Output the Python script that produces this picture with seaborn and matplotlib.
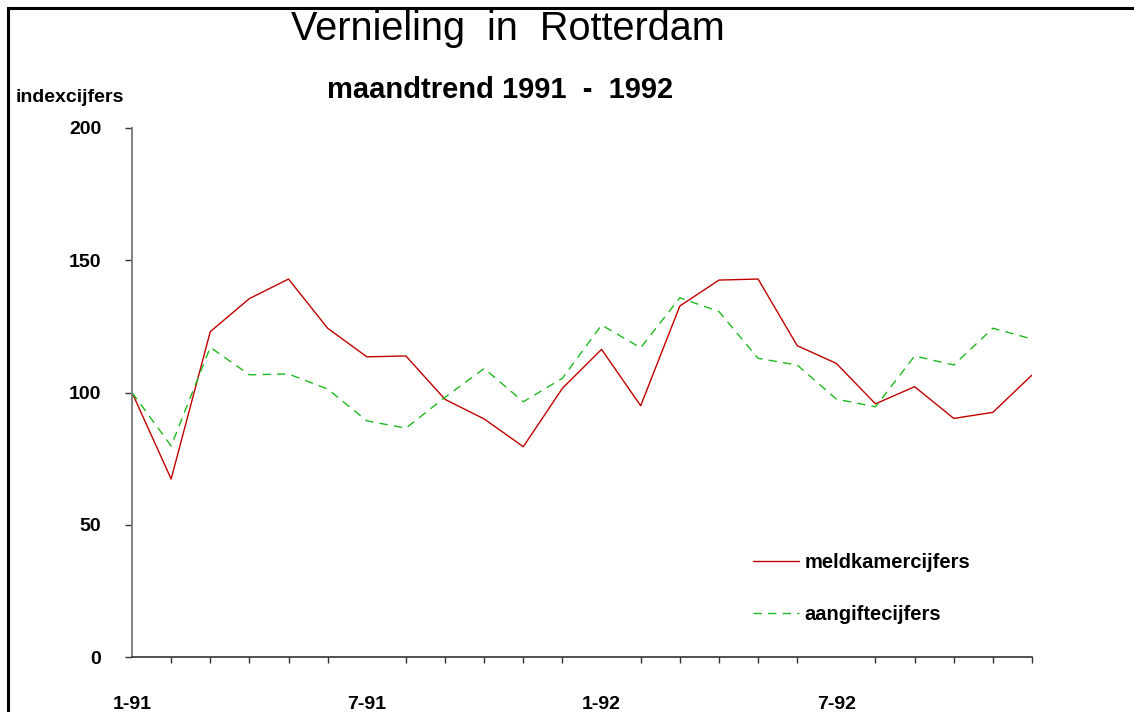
import matplotlib
matplotlib.use('Agg')
from matplotlib import pyplot as plt
from matplotlib.lines import Line2D
from matplotlib.ticker import FixedLocator
import seaborn as sns
import pandas as pd

# maandcijfers jan 1991 - dec 1992 (index, 1-91 = 100)
maanden = list(range(24))
meldkamer = [100, 67.3, 123.0, 135.5, 142.9, 124.3, 113.5, 113.8, 97.4, 90.0, 79.5, 101.6,
             116.3, 95.0, 132.7, 142.5, 142.9, 117.7, 111.0, 95.7, 102.2, 90.2, 92.5, 106.6]
aangifte = [100, 79.8, 117.1, 106.7, 107.0, 101.3, 89.3, 86.5, 98.2, 109.1, 96.5, 105.4,
            125.5, 116.9, 135.8, 130.6, 112.9, 110.4, 97.5, 94.6, 113.8, 110.4, 124.3, 120.2]
tick_pos = [0, 6, 12, 18]
tick_labels = ['1-91', '7-91', '1-92', '7-92']
y_ticks = [0, 50, 100, 150, 200]

df = pd.concat([
    pd.DataFrame({'maand': maanden, 'index': meldkamer, 'reeks': 'meldkamercijfers'}),
    pd.DataFrame({'maand': maanden, 'index': aangifte, 'reeks': 'aangiftecijfers'}),
])

sns.set_style('white')
plt.rcParams['font.family'] = ['Liberation Sans', 'DejaVu Sans']
plt.rcParams['text.color'] = 'black'

fig = plt.figure(figsize=(11.34, 7.12), dpi=100)
ax = fig.add_axes([132 / 1134, 1 - 657 / 712, 900 / 1134, 529 / 712])

ax = sns.lineplot(
    data=df, x='maand', y='index',
    hue='reeks', style='reeks',
    palette={'meldkamercijfers': '#c00000', 'aangiftecijfers': '#1fb81f'},
    dashes={'meldkamercijfers': '', 'aangiftecijfers': (6, 4.5)},
    linewidth=1.0, ax=ax,
)

ax.set_xlim(0, 23)
ax.set_ylim(0, 200)
ax.set_xlabel('')
ax.set_ylabel('')

# assen
for side in ['top', 'right']:
    ax.spines[side].set_visible(False)
ax.spines['left'].set_color('#808080')
ax.spines['left'].set_linewidth(1.4)
ax.spines['bottom'].set_color('#333333')
ax.spines['bottom'].set_linewidth(1.2)

ax.xaxis.set_major_locator(FixedLocator(tick_pos))
ax.xaxis.set_minor_locator(FixedLocator(maanden))
ax.set_xticklabels(tick_labels)
ax.set_yticks(y_ticks)
ax.set_yticklabels([str(v) for v in y_ticks])
ax.tick_params(axis='x', which='major', direction='out', length=13, width=1.1,
               color='#555555', pad=15, labelsize=14, labelcolor='black')
ax.tick_params(axis='x', which='minor', direction='out', length=4.3, width=1.0,
               color='#333333', bottom=True)
ax.tick_params(axis='y', direction='out', length=5, width=1.0, color='#333333',
               pad=17, labelsize=14, left=True, labelcolor='black')
for lab in ax.get_xticklabels() + ax.get_yticklabels():
    lab.set_fontweight('bold')

# legenda
leg = ax.legend(loc='center left', bbox_to_anchor=(743 / 1134, 1 - 588.5 / 712),
                bbox_transform=fig.transFigure, frameon=False, borderpad=0,
                handlelength=2.26, handletextpad=0.3, labelspacing=1.6,
                prop={'size': 14.5, 'weight': 'bold'})
for t in leg.get_texts():
    t.set_color('black')

# titels
fig.text(508 / 1134, 1 - 40 / 712, 'Vernieling  in  Rotterdam', ha='center',
         va='baseline', fontsize=28.5)
fig.text(500 / 1134, 1 - 98 / 712, 'maandtrend 1991  -  1992', ha='center',
         va='baseline', fontsize=21, fontweight='bold')
fig.text(16 / 1134, 1 - 102 / 712, 'indexcijfers', ha='left', va='baseline',
         fontsize=14, fontweight='bold')

# kader links en boven
fig.add_artist(Line2D([7.5 / 1134, 7.5 / 1134, 1], [0, 1 - 7.5 / 712, 1 - 7.5 / 712],
                      transform=fig.transFigure, color='black', linewidth=2.2,
                      solid_joinstyle='miter'))

fig.savefig('out.png', dpi=100)
